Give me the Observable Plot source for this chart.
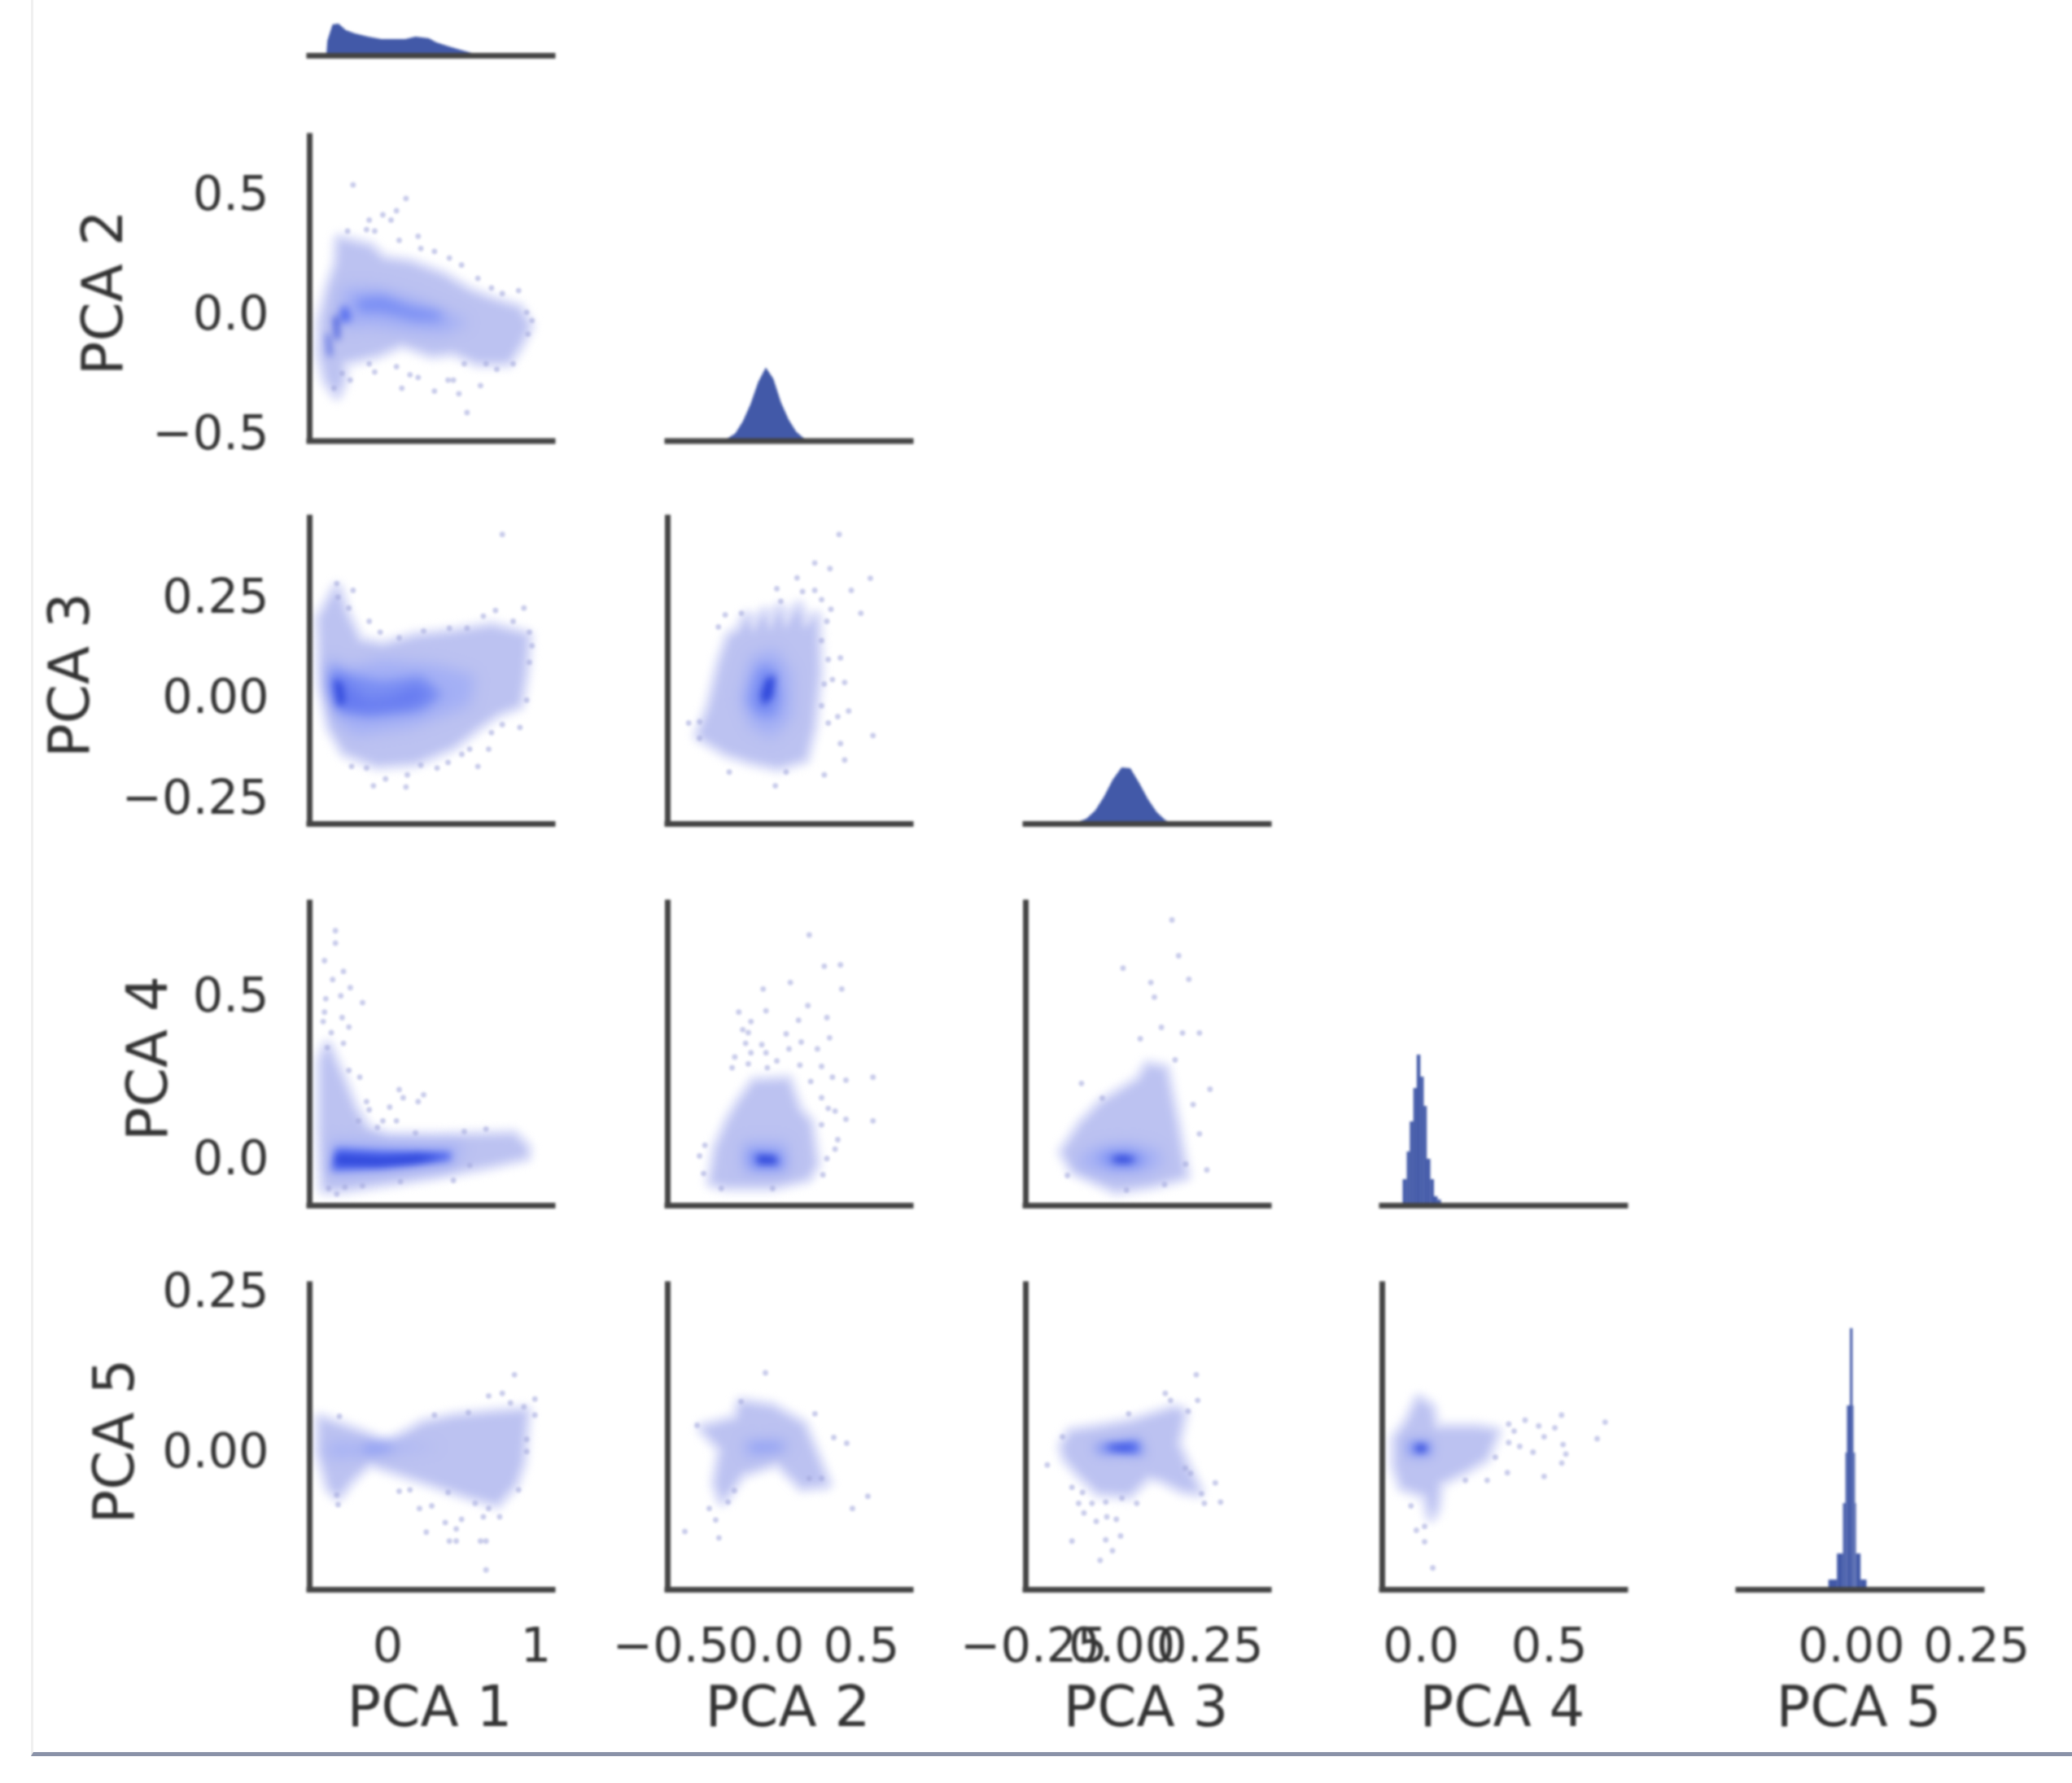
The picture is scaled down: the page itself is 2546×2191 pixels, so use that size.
<!DOCTYPE html>
<html>
<head>
<meta charset="utf-8">
<script src="https://cdn.jsdelivr.net/npm/d3@7"></script>
<script src="https://cdn.jsdelivr.net/npm/@observablehq/plot@0.6"></script>
<style>
html,body{margin:0;padding:0;background:#fff;}
#frame{position:absolute;left:38px;top:0;width:2508px;height:2153px;border-left:3px solid #f0f0f0;border-bottom:5px solid #8a92a8;box-sizing:content-box;filter:blur(.7px);}
#root{position:absolute;left:0;top:0;width:2546px;height:2191px;filter:blur(1.5px);}
#root svg{position:absolute;}
</style>
</head>
<body>
<div id="frame"></div>
<div id="root"></div>
<script>
// Labels and axis extents
const names = ["PCA 1", "PCA 2", "PCA 3", "PCA 4", "PCA 5"];
const xDomains = [[-0.527, 1.115], [-0.517, 0.761], [-0.273, 0.418], [-0.151, 0.798], [-0.225, 0.261]];
const yDomains = [null, [-0.529, 0.745], [-0.314, 0.447], [-0.1425, 0.7875], [-0.216, 0.261]];
const xTicks = [[0, 1], [-0.5, 0, 0.5], [-0.25, 0, 0.25], [0, 0.5], [0, 0.25]];
const yTicks = [null, [-0.5, 0, 0.5], [-0.25, 0, 0.25], [0, 0.5], [0, 0.25]];
const xFormats = ["d", ".1f", ".2f", ".1f", ".2f"];
const yFormats = [null, ".1f", ".2f", ".1f", ".2f"];
const yLabelOffsets = [0, 253, 294, 198, 239];

// Diagonal histograms. PCA 1 to 3 read as outlines, PCA 4 and 5 as stepped bars
const hist1X = [-0.412, -0.405, -0.37, -0.33, -0.28, -0.22, -0.13, -0.04, 0.12, 0.19, 0.28, 0.33, 0.415, 0.49, 0.57, 0.7, 1.1];
const hist1H = [0, 18, 38, 39, 31, 27, 23, 20, 20, 23, 21, 16, 11, 7, 3, 1, 0];
const hist2X = [-0.24, -0.2, -0.16, -0.12, -0.08, -0.04, 0, 0.04, 0.08, 0.12, 0.16, 0.2, 0.24];
const hist2H = [0, 3, 9, 24, 45, 72, 90, 76, 47, 26, 11, 3, 0];
const hist3X = [-0.15, -0.125, -0.1, -0.075, -0.05, -0.025, 0, 0.025, 0.05, 0.075, 0.1, 0.125, 0.15];
const hist3H = [0, 2, 6, 16, 33, 54, 69, 68, 50, 30, 14, 4, 0];
const hist4Edges = [-0.07, -0.054, -0.042, -0.028, -0.015, -0.001, 0.012, 0.024, 0.038, 0.052, 0.066, 0.079, 0.143];
const hist4Heights = [32, 66, 103, 144, 185, 158, 122, 57, 32, 11, 7, 2];
const hist5Edges = [-0.045, -0.028, -0.016, -0.011, -0.008, -0.002, 0.003, 0.005, 0.008, 0.01, 0.019, 0.031];
const hist5Heights = [12, 44, 106, 168, 226, 321, 226, 168, 106, 44, 12];

// PCA 1 vs PCA 2: density regions and sparse outliers
const p12Outer = [[-0.344,-0.331],[-0.408,-0.274],[-0.451,-0.161],[-0.445,-0.025],[-0.39,0.111],[-0.335,0.213],[-0.326,0.31],[-0.125,0.28],[-0.033,0.227],[0.15,0.21],[0.37,0.159],[0.553,0.091],[0.7,0.056],[0.883,0.022],[0.947,-0.048],[0.883,-0.128],[0.81,-0.196],[0.608,-0.196],[0.443,-0.151],[0.297,-0.162],[0.095,-0.117],[-0.07,-0.162],[-0.308,-0.196],[-0.308,-0.274]];
const p12Mid = [[-0.308,0.111],[-0.07,0.111],[0.187,0.066],[0.407,0.009],[0.553,-0.036],[0.37,-0.082],[0.15,-0.07],[-0.125,-0.048],[-0.308,-0.059]];
const p12Core = [[-0.216,0.066],[-0.033,0.077],[0.15,0.032],[0.352,0.009],[0.37,-0.025],[0.187,-0.025],[-0.033,0.009],[-0.198,0.009]];
const p12Hot = [[-0.317,0.032],[-0.271,0.032],[-0.244,-0.025],[-0.317,-0.036]];
const p12Dark1 = [[-0.366,-0.014],[-0.335,-0.002],[-0.326,-0.104],[-0.353,-0.104]];
const p12Dark2 = [[-0.414,-0.082],[-0.396,-0.082],[-0.377,-0.172],[-0.399,-0.172]];
const p12Dots = [[-0.234,0.542],[0.123,0.485],[-0.033,0.417],[0.059,0.434],[-0.125,0.395],[0.022,0.395],[-0.271,0.349],[-0.143,0.355],[-0.088,0.349],[0.077,0.31],[0.205,0.327],[0.315,0.264],[0.223,0.276],[0.416,0.236],[0.498,0.207],[0.608,0.151],[0.7,0.111],[0.773,0.088],[0.883,0.1],[0.938,0.009],[0.974,-0.025],[0.947,-0.082],[0.846,-0.206],[0.736,-0.229],[0.663,-0.206],[0.516,-0.206],[0.443,-0.274],[0.315,-0.32],[0.205,-0.263],[0.15,-0.252],[0.059,-0.218],[-0.088,-0.24],[-0.125,-0.206],[-0.253,-0.274],[-0.308,-0.246],[-0.363,-0.308],[0.48,-0.331],[0.535,-0.41],[0.407,-0.274],[0.626,-0.297],[0.095,-0.308]];

// PCA 1 vs PCA 3
const p13Outer = [[-0.344,0.27],[-0.454,0.196],[-0.436,0.034],[-0.381,-0.074],[-0.289,-0.134],[-0.07,-0.165],[0.187,-0.158],[0.443,-0.118],[0.608,-0.07],[0.736,-0.037],[0.883,-0.016],[0.919,0.061],[0.938,0.153],[0.7,0.175],[0.443,0.159],[0.187,0.149],[-0.033,0.126],[-0.198,0.139],[-0.289,0.207]];
const p13Mid = [[-0.408,0.102],[-0.271,0.075],[-0.033,0.095],[0.333,0.082],[0.59,0.055],[0.553,-0.02],[0.15,-0.074],[-0.216,-0.094],[-0.344,-0.06],[-0.399,0.021]];
const p13Core = [[-0.381,0.082],[-0.308,0.061],[-0.033,0.041],[0.223,0.055],[0.37,0.007],[0.223,-0.033],[-0.125,-0.047],[-0.326,-0.033],[-0.381,0.021]];
const p13Warm = [[-0.372,0.055],[-0.308,0.048],[-0.143,-0.006],[0.022,0.001],[0.187,0.028],[0.297,0.007],[0.15,-0.02],[-0.143,-0.033],[-0.326,-0.026],[-0.372,0.014]];
const p13Dark = [[-0.363,0.048],[-0.308,0.034],[-0.289,-0.013],[-0.335,-0.02]];
const p13Dots = [[0.773,0.406],[-0.344,0.284],[-0.234,0.267],[-0.335,0.25],[-0.125,0.19],[-0.262,0.223],[-0.051,0.163],[0.077,0.149],[0.242,0.166],[0.416,0.173],[0.535,0.173],[0.645,0.203],[0.727,0.217],[0.919,0.223],[0.846,0.19],[0.956,0.163],[0.974,0.129],[0.956,0.088],[0.938,-0.006],[0.892,-0.074],[0.773,-0.067],[0.7,-0.087],[0.681,-0.128],[0.553,-0.128],[0.5,-0.141],[0.407,-0.161],[0.333,-0.175],[0.608,-0.171],[0.223,-0.168],[0.132,-0.192],[-0.015,-0.202],[0.123,-0.222],[-0.097,-0.219],[-0.244,-0.171],[-0.143,-0.175]];

// PCA 2 vs PCA 3
const p23Outer = [[-0.35,-0.094],[-0.293,-0.026],[-0.236,0.088],[-0.19,0.15],[-0.137,0.165],[-0.1,0.2],[-0.07,0.16],[-0.01,0.21],[0.02,0.165],[0.07,0.22],[0.1,0.17],[0.17,0.225],[0.2,0.17],[0.26,0.2],[0.265,0.142],[0.27,0.061],[0.24,-0.074],[0.2,-0.15],[0.063,-0.17],[-0.08,-0.155],[-0.208,-0.135]];
const p23Mid = [[-0.08,0.102],[0.048,0.122],[0.134,0.061],[0.134,-0.047],[0.034,-0.101],[-0.08,-0.074],[-0.137,-0.006]];
const p23Core = [[-0.03,0.082],[0.048,0.075],[0.077,0.001],[0.048,-0.047],[-0.037,-0.047],[-0.094,-0.013],[-0.073,0.041]];
const p23Dark = [[-0.001,0.048],[0.048,0.055],[0.034,0.001],[-0.016,-0.02],[-0.03,0.007]];
const p23Dots = [[0.383,0.406],[0.255,0.335],[0.335,0.321],[0.547,0.297],[0.162,0.298],[0.056,0.271],[0.191,0.264],[0.255,0.267],[0.447,0.267],[0.291,0.244],[0.077,0.24],[0.34,0.22],[0.497,0.21],[-0.13,0.21],[-0.215,0.206],[0.319,0.19],[-0.251,0.176],[0.291,0.142],[0.326,0.095],[0.39,0.099],[0.348,0.045],[0.412,0.038],[0.305,0.034],[0.291,-0.02],[0.376,-0.047],[0.433,-0.033],[0.326,-0.063],[0.561,-0.094],[0.39,-0.114],[0.412,-0.155],[0.305,-0.192],[0.105,-0.185],[0.048,-0.219],[-0.194,-0.185],[-0.35,-0.06],[-0.407,-0.063],[-0.35,-0.101]];

// PCA 1 vs PCA 4
const p14Outer = [[-0.427,-0.09],[-0.445,0.093],[-0.445,0.3],[-0.408,0.345],[-0.308,0.24],[-0.234,0.155],[-0.143,0.09],[0,0.065],[0.333,0.065],[0.846,0.072],[0.93,0.035],[0.93,0.01],[0.717,-0.012],[0.333,-0.045],[-0.033,-0.07],[-0.289,-0.088]];
const p14Mid = [[-0.381,0.06],[-0.033,0.052],[0.516,0.043],[0.443,-0.019],[-0.033,-0.04],[-0.39,-0.048]];
const p14Core = [[-0.353,0.035],[-0.033,0.027],[0.425,0.022],[0.425,-0.003],[-0.033,-0.028],[-0.381,-0.036]];
const p14Dark = [[-0.344,0.014],[-0.033,0.006],[0.205,0.014],[0.37,0.006],[0.187,-0.011],[-0.07,-0.019],[-0.353,-0.015]];
const p14Dots = [[-0.353,0.702],[-0.353,0.664],[-0.427,0.61],[-0.299,0.577],[-0.372,0.552],[-0.253,0.527],[-0.418,0.493],[-0.317,0.502],[-0.17,0.481],[-0.427,0.452],[-0.436,0.423],[-0.308,0.435],[-0.262,0.406],[-0.381,0.389],[-0.408,0.343],[-0.299,0.356],[-0.262,0.273],[-0.189,0.252],[0.077,0.214],[0.242,0.198],[-0.143,0.177],[0.104,0.189],[0.205,0.177],[-0.125,0.152],[0.013,0.16],[-0.033,0.118],[0.059,0.118],[-0.198,0.118],[-0.07,0.098],[0.187,0.081],[0.663,0.093],[0.516,0.085],[0.443,-0.065],[0.553,-0.019],[-0.289,-0.086],[-0.399,-0.09],[-0.344,-0.107],[-0.17,-0.082],[0.086,-0.069]];

// PCA 2 vs PCA 4
const p24Outer = [[-0.285,-0.07],[-0.255,0.035],[-0.19,0.12],[-0.14,0.17],[-0.06,0.235],[0.11,0.24],[0.165,0.15],[0.225,0.11],[0.255,-0.015],[0.215,-0.055],[0.034,-0.08],[-0.208,-0.08]];
const p24Mid = [[-0.123,0.052],[0.105,0.052],[0.12,-0.04],[-0.123,-0.04]];
const p24Core = [[-0.094,0.027],[0.077,0.022],[0.091,-0.028],[-0.08,-0.028]];
const p24Dark = [[-0.051,0.014],[0.048,0.01],[0.063,-0.015],[-0.044,-0.015]];
const p24Dots = [[0.226,0.689],[0.305,0.593],[0.39,0.597],[0.127,0.543],[-0.016,0.523],[0.397,0.523],[0.219,0.472],[-0.001,0.456],[-0.144,0.452],[0.319,0.435],[0.17,0.427],[-0.08,0.423],[-0.123,0.398],[0.105,0.385],[-0.094,0.389],[0.333,0.373],[-0.023,0.352],[-0.108,0.356],[0.184,0.36],[0.12,0.339],[0.269,0.339],[-0.001,0.327],[-0.165,0.314],[-0.08,0.327],[0.056,0.302],[-0.094,0.293],[0.177,0.289],[-0.179,0.281],[0.006,0.281],[0.291,0.285],[0.348,0.252],[0.419,0.243],[0.561,0.252],[0.234,0.239],[0.291,0.189],[0.326,0.156],[0.362,0.148],[0.419,0.123],[0.561,0.118],[0.291,0.106],[0.376,0.06],[0.362,0.031],[0.319,0.002],[0.298,-0.048],[-0.35,0.01],[-0.322,0.043],[-0.329,-0.044],[-0.236,-0.09],[0.034,-0.09]];

// PCA 3 vs PCA 4
const p34Outer = [[-0.165,0.022],[-0.114,0.105],[-0.056,0.17],[0.05,0.24],[0.075,0.285],[0.12,0.275],[0.15,0.115],[0.178,-0.05],[0.082,-0.076],[-0.017,-0.092],[-0.135,-0.033]];
const p34Mid = [[-0.13,0],[-0.07,0.04],[0.02,0.05],[0.1,0.03],[0.12,-0.01],[0.07,-0.04],[-0.04,-0.045],[-0.11,-0.025]];
const p34Core = [[-0.07,0.005],[-0.03,0.025],[0.03,0.025],[0.07,0],[0.04,-0.025],[-0.03,-0.025]];
const p34Dark = [[-0.03,0.005],[0,0.012],[0.04,0.003],[0.02,-0.012],[-0.02,-0.01]];
const p34Dots = [[0.142,0.735],[0.003,0.587],[0.161,0.625],[0.082,0.543],[0.092,0.498],[0.19,0.553],[0.172,0.388],[0.112,0.405],[0.052,0.37],[0.22,0.388],[0.151,0.305],[0.25,0.215],[-0.115,0.233],[-0.056,0.188],[0.202,0.168],[0.22,0.078],[0.181,-0.015],[0.241,-0.033],[-0.155,-0.05],[0.013,-0.095],[0.121,-0.078]];

// PCA 1 vs PCA 5
const p15Outer = [[-0.454,0.05],[-0.16,0.025],[-0.036,0.012],[0.04,0.015],[0.242,0.042],[0.443,0.052],[0.7,0.058],[0.93,0.062],[0.9,-0.017],[0.85,-0.05],[0.736,-0.08],[0.553,-0.068],[0.297,-0.048],[0.04,-0.028],[-0.125,-0.015],[-0.253,-0.043],[-0.335,-0.068],[-0.39,-0.056],[-0.454,0]];
const p15Mid = [[-0.399,0.014],[-0.16,0.01],[0.04,0.012],[0.37,0.008],[0.04,0],[-0.16,-0.005],[-0.399,-0.009]];
const p15Core = [[-0.16,0.008],[0.022,0.01],[0.022,0.003],[-0.16,-0.001]];
const p15Dots = [[0.855,0.12],[0.773,0.091],[0.681,0.087],[0.993,0.082],[0.919,0.07],[0.828,0.076],[0.993,0.057],[0.544,0.061],[0.315,0.057],[-0.326,0.055],[0.938,0.019],[0.938,0],[0.883,-0.06],[0.755,-0.102],[0.681,-0.089],[0.59,-0.081],[0.498,-0.106],[0.388,-0.111],[0.462,-0.121],[0.297,-0.085],[0.214,-0.089],[0.26,-0.126],[0.416,-0.14],[0.462,-0.14],[0.626,-0.14],[0.663,-0.14],[0.663,-0.185],[0.15,-0.06],[0.077,-0.062],[-0.335,-0.083],[-0.344,-0.068],[0.407,-0.064],[0.645,-0.102]];

// PCA 2 vs PCA 5
const p25Outer = [[-0.33,0.036],[-0.15,0.05],[-0.13,0.075],[0.03,0.068],[0.19,0.041],[0.256,-0.006],[0.315,-0.05],[0.19,-0.054],[0.06,-0.015],[-0.13,-0.033],[-0.23,-0.075],[-0.26,-0.05],[-0.23,0.004]];
const p25Mid = [[-0.12,0.016],[0.1,0.018],[0.12,0.005],[-0.1,-0.008]];
const p25Core = [[-0.08,0.009],[0.08,0.009],[0.08,0.003],[-0.08,0.003]];
const p25Dots = [[-0.265,-0.107],[-0.299,-0.089],[-0.167,-0.061],[-0.004,0.123],[-0.132,0.078],[0.355,0.022],[0.423,0.013],[0.291,-0.042],[0.453,-0.089],[0.534,-0.07],[0.256,0.059],[-0.427,-0.125],[-0.363,0.041],[-0.2,-0.079],[0.226,-0.042],[-0.248,-0.135]];

// PCA 3 vs PCA 5
const p35Outer = [[-0.166,0.008],[-0.143,0.029],[-0.058,0.036],[0.027,0.044],[0.149,0.065],[0.172,0.06],[0.153,0.012],[0.18,-0.022],[0.215,-0.062],[0.172,-0.058],[0.111,-0.041],[0.073,-0.037],[0.019,-0.066],[-0.066,-0.062],[-0.119,-0.034],[-0.158,-0.009]];
const p35Mid = [[-0.081,0.01],[0.05,0.019],[0.065,-0.005],[-0.066,-0.003]];
const p35Core = [[-0.05,0.009],[0.042,0.014],[0.046,-0.001],[-0.035,0.002]];
const p35Dark = [[-0.039,0.008],[0.026,0.008],[0.019,0.003],[-0.02,0.004]];
const p35Dots = [[0.211,0.12],[0.215,0.08],[0.138,0.08],[0.123,0.091],[0.019,0.059],[0.188,0.063],[-0.212,-0.021],[-0.169,0.023],[0.18,-0.026],[0.195,-0.034],[0.265,-0.049],[0.226,-0.066],[0.28,-0.079],[0.234,-0.081],[-0.085,-0.081],[-0.123,-0.081],[-0.046,-0.079],[0.042,-0.081],[-0.108,-0.096],[-0.073,-0.109],[-0.043,-0.102],[-0.016,-0.106],[0,-0.073],[-0.004,-0.132],[-0.046,-0.138],[-0.142,-0.14],[-0.027,-0.155],[-0.062,-0.17],[-0.142,-0.056],[-0.112,-0.064]];

// PCA 4 vs PCA 5
const p45Outer = [[-0.097,0.02],[-0.049,0.045],[-0.008,0.08],[0.036,0.068],[0.052,0.035],[0.214,0.035],[0.29,0.03],[0.25,-0.009],[0.163,-0.03],[0.068,-0.048],[0.056,-0.088],[0.04,-0.1],[0.021,-0.067],[-0.071,-0.054],[-0.097,-0.022]];
const p45Mid = [[-0.05,0.016],[0.04,0.016],[0.04,-0.006],[-0.05,-0.006]];
const p45Dark = [[-0.02,0.01],[0.02,0.01],[0.02,0],[-0.02,0]];
const p45Dots = [[0.718,0.046],[0.687,0.02],[0.548,0.057],[0.554,0.011],[0.565,-0.004],[0.549,-0.018],[0.522,0.037],[0.459,0.04],[0.48,0.023],[0.437,-0.001],[0.48,-0.039],[0.385,0.008],[0.406,0.049],[0.342,0.043],[0.363,0.032],[0.342,0.014],[0.29,-0.009],[0.337,-0.033],[0.258,-0.045],[0.173,-0.045],[0.014,-0.117],[0.014,-0.141],[0.046,-0.182],[-0.039,-0.085],[-0.018,-0.123]];

// Frame geometry of the grid
const colLeft = [380, 820, 1260, 1698, 2136];
const panelW = 299;
const rowTop = [0, 167, 636, 1109, 1578];
const rowBottom = [68, 541.5, 1012, 1481, 1953];

// Shade for each density level, lightest to darkest, with its softness
const shades = {
  fringe: ["#dde0f9", 5], outer: ["#bcc2f1", 4], mid: ["#a3aff5", 9], core: ["#7a8ef3", 7], warm: ["#6579f0", 8], hot: ["#5169ee", 5], dark: ["#2f47da", 4]
};

const scatterPanels = [
  {c:0, r:1, dots:p12Dots, layers:[[p12Outer,"outer"],[p12Mid,"mid"],[p12Core,"core"],[p12Hot,"hot"],[p12Dark1,"dark"],[p12Dark2,"dark"]]},
  {c:0, r:2, dots:p13Dots, layers:[[p13Outer,"outer"],[p13Mid,"mid"],[p13Core,"core"],[p13Warm,"warm"],[p13Dark,"dark"]]},
  {c:1, r:2, dots:p23Dots, layers:[[p23Outer,"outer"],[p23Mid,"mid"],[p23Core,"core"],[p23Dark,"dark"]]},
  {c:0, r:3, dots:p14Dots, layers:[[p14Outer,"outer"],[p14Mid,"mid"],[p14Core,"hot"],[p14Dark,"dark"]]},
  {c:1, r:3, dots:p24Dots, layers:[[p24Outer,"outer"],[p24Mid,"mid"],[p24Core,"core"],[p24Dark,"dark"]]},
  {c:2, r:3, dots:p34Dots, layers:[[p34Outer,"outer"],[p34Mid,"mid"],[p34Core,"core"],[p34Dark,"dark"]]},
  {c:0, r:4, dots:p15Dots, layers:[[p15Outer,"outer"],[p15Mid,"mid"],[p15Core,"core"]]},
  {c:1, r:4, dots:p25Dots, layers:[[p25Outer,"outer"],[p25Mid,"mid"],[p25Core,"core"]]},
  {c:2, r:4, dots:p35Dots, layers:[[p35Outer,"outer"],[p35Mid,"core"],[p35Core,"hot"],[p35Dark,"dark"]]},
  {c:3, r:4, dots:p45Dots, layers:[[p45Outer,"outer"],[p45Mid,"core"],[p45Dark,"dark"]]}
];
const outlinePanels = [
  {c:0, r:0, xs:hist1X, hs:hist1H},
  {c:1, r:1, xs:hist2X, hs:hist2H},
  {c:2, r:2, xs:hist3X, hs:hist3H}
];
const stepPanels = [
  {c:3, r:3, edges:hist4Edges, heights:hist4Heights},
  {c:4, r:4, edges:hist5Edges, heights:hist5Heights}
];

const root = document.getElementById("root");
const TICK = 59, LABEL = 69, INK = "#333", BAR = "#4259a8";

function draw(c, r, y, marks, hasY) {
  const h = rowBottom[r] - rowTop[r];
  const m = [...marks];
  if (hasY) m.push(Plot.ruleX([xDomains[c][0]], {stroke:"#444", strokeWidth:7, strokeLinecap:"square"}));
  m.push(Plot.ruleY([y[0]], {x1:xDomains[c][0], x2:xDomains[c][1], stroke:"#444", strokeWidth:7, strokeLinecap:"square"}));
  if (hasY && c === 0) {
    m.push(Plot.axisY({ticks:yTicks[r], tickSize:0, tickPadding:50, tickFormat:d3.format(yFormats[r]), fontSize:TICK, fill:INK, label:null}));
    m.push(Plot.text([names[r]], {text:d=>d, frameAnchor:"left", textAnchor:"middle", dx:-yLabelOffsets[r], dy:5, rotate:-90, fontSize:LABEL, fill:INK}));
  }
  if (r === 4) {
    m.push(Plot.axisX({ticks:xTicks[c], tickSize:0, tickPadding:47, tickFormat:d3.format(xFormats[c]), fontSize:TICK, fill:INK, label:null}));
    m.push(Plot.text([names[c]], {text:d=>d, frameAnchor:"bottom", lineAnchor:"middle", dx:-2, dy:145, fontSize:LABEL, fill:INK}));
  }
  const svg = Plot.plot({
    width: panelW + 40, height: h + 20,
    marginLeft: 20, marginRight: 20, marginTop: 10, marginBottom: 10,
    x: {domain: xDomains[c], axis: null},
    y: {domain: y, axis: null},
    style: {overflow:"visible", background:"transparent", fontFamily:"'DejaVu Sans'", maxWidth:"none"},
    marks: m
  });
  svg.style.left = (colLeft[c] - 20) + "px";
  svg.style.top = (rowTop[r] - 10) + "px";
  root.appendChild(svg);
  return svg;
}

for (const p of outlinePanels) {
  const pts = p.xs.map((x, i) => ({x, h:p.hs[i]}));
  draw(p.c, p.r, [0, rowBottom[p.r] - rowTop[p.r]], [
    Plot.areaY(pts, {x:"x", y:"h", fill:BAR, curve:"linear"})
  ], false);
}

for (const p of stepPanels) {
  const bars = p.heights.map((v, i) => ({a:p.edges[i], b:p.edges[i + 1], v}));
  draw(p.c, p.r, [0, rowBottom[p.r] - rowTop[p.r]], [
    Plot.rect(bars, {x1:"a", x2:"b", y1:0, y2:"v", fill:BAR})
  ], false);
}

for (const p of scatterPanels) {
  const outer = p.layers[0][0];
  const all = [[outer, "fringe"], ...p.layers];
  const marks = all.map(([pts, level]) =>
    Plot.line(pts, {
      x:d=>d[0], y:d=>d[1], fill:shades[level][0], curve:"linear-closed",
      stroke: level === "fringe" ? shades.fringe[0] : "none",
      strokeWidth: level === "fringe" ? 18 : 0
    }));
  marks.push(Plot.dot(p.dots, {x:d=>d[0], y:d=>d[1], r:3.4, fill:"#a4a9dc", fillOpacity:0.6, stroke:"none"}));
  const svg = draw(p.c, p.r, yDomains[p.r], marks, true);
  svg.querySelectorAll('g[aria-label="line"]').forEach((g, i) => {
    g.style.filter = `blur(${shades[all[i][1]][1]}px)`;
  });
}
</script>
</body>
</html>
